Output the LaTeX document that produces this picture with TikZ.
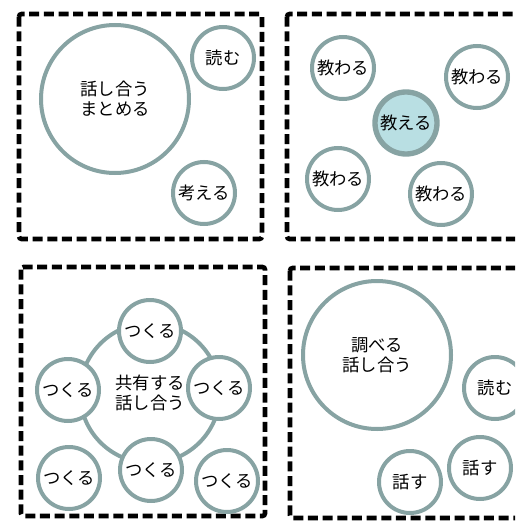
\documentclass[tikz,border=0pt]{standalone}
\usepackage{fontspec}
\setmainfont{Noto Sans CJK JP}
\usetikzlibrary{positioning}
\definecolor{ringgray}{HTML}{87A3A3}
\definecolor{teachblue}{HTML}{B9DFE3}
\tikzstyle{every node}+=[inner sep=0pt]
\tikzstyle{group} = [draw, line width=3.5pt, dash pattern=on 7.5pt off 3.5pt, rounded corners=2pt]
\tikzstyle{act} = [circle, draw=ringgray, fill=white, line width=3pt, minimum size=46.5pt, align=center, font=\fontsize{13}{15}\selectfont]
\tikzstyle{bigact} = [act, minimum size=111pt]
\tikzstyle{teach} = [act, fill=teachblue, line width=4pt]
\tikzstyle{share} = [act, fill=none, minimum size=105pt]

\begin{document}
\begin{tikzpicture}[x=0.75pt, y=-0.75pt]
  \clip (0,0) rectangle (515,521);
  % Draw groups
  \path [group] (19,14) rectangle (262,239);
  \path [group] (287,14) rectangle (530,239);
  \path [group] (21,267) rectangle (265,516);
  \path [group] (290,268) rectangle (530,518);
  % Place nodes: top left
  \node [bigact] (talk1) at (115,99) {話し合う\\まとめる};
  \node [act] (read1) at (223,58) {読む};
  \node [act] (think) at (204,193) {考える};
  % Place nodes: top right
  \node [teach] (teach) at (406,123) {教える};
  \node [act] (learn1) at (343,68) {教わる};
  \node [act] (learn2) at (477,77) {教わる};
  \node [act] (learn3) at (338,179) {教わる};
  \node [act] (learn4) at (441,194) {教わる};
  % Place nodes: bottom left
  \node [share] (share) at (150,393) {共有する\\話し合う};
  \node [act] (make1) at (150,331) {つくる};
  \node [act] (make2) at (68,390) {つくる};
  \node [act] (make3) at (219,388) {つくる};
  \node [act] (make4) at (151,470) {つくる};
  \node [act] (make5) at (69,478) {つくる};
  \node [act] (make6) at (227,481) {つくる};
  % Place nodes: bottom right
  \node [bigact] (study) at (377,355) {調べる\\話し合う};
  \node [act] (read2) at (495,388) {読む};
  \node [act] (speak1) at (480,468) {話す};
  \node [act] (speak2) at (410,482) {話す};
\end{tikzpicture}
\end{document}
